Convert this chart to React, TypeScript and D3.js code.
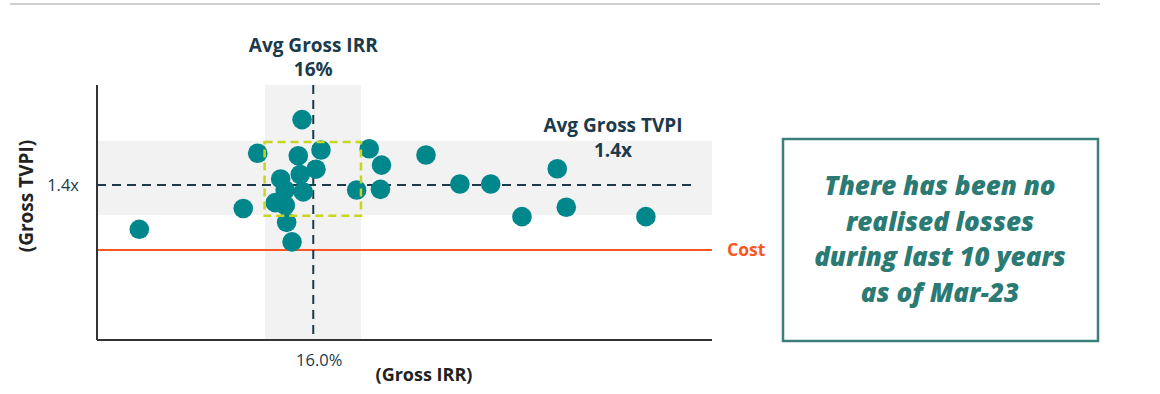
import React from "react";
import * as d3 from "d3";

// ---- data ----
const grossIRR: number[] = [
  3.13, 10.82, 11.89, 15.17, 16.57, 14.89, 16.2, 15.04, 13.59, 15.26, 13.92, 13.19, 13.93,
  14.03, 14.43, 20.14, 21.05, 19.21, 20.97, 24.34, 26.85, 29.13, 31.44, 34.05, 34.72, 40.61,
];
const grossTVPI: number[] = [
  1.127, 1.255, 1.595, 1.802, 1.615, 1.58, 1.497, 1.464, 1.437, 1.357, 1.369, 1.291, 1.274,
  1.17, 1.05, 1.623, 1.522, 1.369, 1.373, 1.584, 1.406, 1.406, 1.205, 1.5, 1.263, 1.205,
];
const avgIRR = 16.0;
const avgTVPI = 1.4;
const costTVPI = 1.0;
const irrBand: [number, number] = [12.43, 19.53];
const tvpiBand: [number, number] = [1.216, 1.672];
const focusBoxIRR: [number, number] = [12.4, 19.53];
const focusBoxTVPI: [number, number] = [1.21, 1.665];
const xTickLabels = ["16.0%"];
const yTickLabels = ["1.4x"];
const noteLines = ["There has been no", "realised losses", "during last 10 years", "as of Mar-23"];

const W = 1160;
const H = 394;
const left = 97;
const right = 712;
const top = 85;
const bottom = 340;

export default function App() {
  const x = d3.scaleLinear().domain([0, 45.5]).range([left, right]);
  const y = d3.scaleLinear().domain([0.446, 2.015]).range([bottom, top]);
  const navy = "#1b3a4b";
  const teal = "#00878c";
  const font = "'Open Sans', 'Noto Sans', sans-serif";

  return (
    <svg
      width={W}
      height={H}
      style={{ position: "absolute", left: 0, top: 0, background: "#fff" }}
      fontFamily={font}
    >
      {/* top rule */}
      <line x1={10} x2={1100} y1={4} y2={4} stroke="#cfcfd3" strokeWidth={2} />

      {/* bands */}
      <rect x={x(irrBand[0])} y={top} width={x(irrBand[1]) - x(irrBand[0])} height={bottom - top} fill="#f2f2f2" />
      <rect x={left} y={y(tvpiBand[1])} width={right - left} height={y(tvpiBand[0]) - y(tvpiBand[1])} fill="#f2f2f2" />

      {/* cost line */}
      <line x1={left} x2={right} y1={y(costTVPI)} y2={y(costTVPI)} stroke="#fc5622" strokeWidth={2} />
      <text x={727} y={y(costTVPI)} dy="0.35em" fill="#fc5622" fontWeight={700} fontSize={17.5}>Cost</text>

      {/* avg lines */}
      <line x1={left} x2={696} y1={y(avgTVPI)} y2={y(avgTVPI)} stroke={navy} strokeWidth={2} strokeDasharray="9,6" />
      <line x1={x(avgIRR)} x2={x(avgIRR)} y1={top} y2={bottom} stroke={navy} strokeWidth={2} strokeDasharray="9,6" />

      {/* points */}
      {grossIRR.map((v, i) => (
        <circle key={i} cx={x(v)} cy={y(grossTVPI[i])} r={9.8} fill={teal} />
      ))}

      {/* focus box */}
      <rect
        x={x(focusBoxIRR[0])}
        y={y(focusBoxTVPI[1])}
        width={x(focusBoxIRR[1]) - x(focusBoxIRR[0])}
        height={y(focusBoxTVPI[0]) - y(focusBoxTVPI[1])}
        fill="none"
        stroke="#c6d61c"
        strokeWidth={2.5}
        strokeDasharray="8,5"
      />

      {/* axes */}
      <line x1={left} x2={left} y1={top} y2={bottom} stroke="#333" strokeWidth={2} />
      <line x1={left} x2={right} y1={bottom} y2={bottom} stroke="#333" strokeWidth={2} />

      {/* tick labels */}
      <text x={79} y={y(avgTVPI)} dy="0.35em" textAnchor="end" fill={navy} fontSize={16.5}>{yTickLabels[0]}</text>
      <text x={x(avgIRR) + 6} y={366} textAnchor="middle" fill={navy} fontSize={16.5}>{xTickLabels[0]}</text>

      {/* axis titles */}
      <text x={424} y={381} textAnchor="middle" fill="#222" fontWeight={700} fontSize={18}>(Gross IRR)</text>
      <text transform="translate(33,196) rotate(-90)" textAnchor="middle" fill="#222" fontWeight={700} fontSize={19}>(Gross TVPI)</text>

      {/* annotations */}
      <text x={x(avgIRR)} y={52} textAnchor="middle" fill={navy} fontWeight={700} fontSize={19}>Avg Gross IRR</text>
      <text x={x(avgIRR)} y={76} textAnchor="middle" fill={navy} fontWeight={700} fontSize={19}>16%</text>
      <text x={613} y={132} textAnchor="middle" fill={navy} fontWeight={700} fontSize={19}>Avg Gross TVPI</text>
      <text x={613} y={157} textAnchor="middle" fill={navy} fontWeight={700} fontSize={19}>1.4x</text>

      {/* note box */}
      <rect x={783} y={139} width={315} height={202} fill="none" stroke="#3a7f7a" strokeWidth={2.5} />
      {noteLines.map((t, i) => (
        <text key={i} x={940} y={195 + i * 35.5} textAnchor="middle" fill="#2b7a73" fontWeight={800} fontStyle="italic" fontSize={26}>
          {t}
        </text>
      ))}
    </svg>
  );
}
